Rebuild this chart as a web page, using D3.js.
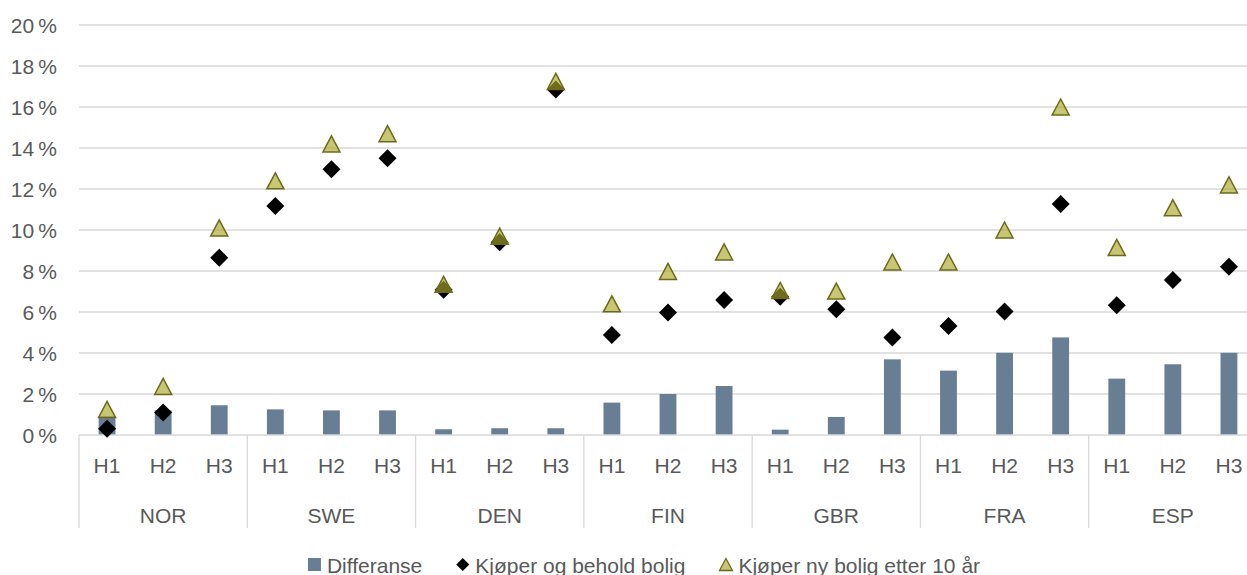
<!DOCTYPE html>
<html>
<head>
<meta charset="utf-8">
<script src="https://cdn.jsdelivr.net/npm/d3@7"></script>
<style>
  html, body { margin: 0; padding: 0; background: #ffffff; }
  svg { display: block; }
  text { font-family: "Liberation Sans", Arial, sans-serif; fill: #595959; }
</style>
</head>
<body>
<svg id="chart" width="1247" height="575"></svg>
<script>
const countries = ["NOR", "SWE", "DEN", "FIN", "GBR", "FRA", "ESP"];
const subcats = ["H1", "H2", "H3"];
const yTicks = [0, 0.02, 0.04, 0.06, 0.08, 0.10, 0.12, 0.14, 0.16, 0.18, 0.20];
const seriesNames = ["Differanse", "Kjøper og behold bolig", "Kjøper ny bolig etter 10 år"];

// values per country, H1..H3 (fractions)
const differanse = [
  0.009, 0.012, 0.0145,
  0.0125, 0.012, 0.012,
  0.0028, 0.0033, 0.0033,
  0.0158, 0.020, 0.0239,
  0.0026, 0.0088, 0.0369,
  0.0314, 0.0401, 0.0476,
  0.0275, 0.0345, 0.0401
];
const beholdBolig = [
  0.003, 0.011, 0.0865,
  0.1117, 0.1296, 0.135,
  0.0708, 0.094, 0.1685,
  0.0488, 0.0598, 0.0658,
  0.0675, 0.0613, 0.0476,
  0.0532, 0.0602, 0.1127,
  0.0633, 0.0756, 0.0821
];
const nyBolig = [
  0.0125, 0.0237, 0.101,
  0.124, 0.142, 0.147,
  0.0735, 0.097, 0.1725,
  0.064, 0.0798, 0.0893,
  0.0705, 0.0702, 0.0844,
  0.0844, 0.100, 0.160,
  0.0915, 0.1109, 0.122
];

const rows = [];
countries.forEach((c, ci) => subcats.forEach((h, hi) => {
  const i = ci * 3 + hi;
  rows.push({ country: c, sub: h, diff: differanse[i], behold: beholdBolig[i], ny: nyBolig[i] });
}));

const FS = "21px";
const svg = d3.select("#chart");
const plotLeft = 79, plotRight = 1257, plotTop = 25, plotBottom = 435;

const x0 = d3.scaleBand().domain(countries).range([plotLeft, plotRight]).paddingInner(0).paddingOuter(0);
const x1 = d3.scaleBand().domain(subcats).range([0, x0.bandwidth()]).paddingInner(0.7).paddingOuter(0.35);
const y = d3.scaleLinear().domain([0, 0.20]).range([plotBottom, plotTop]);

const cx = d => x0(d.country) + x1(d.sub) + x1.bandwidth() / 2;

// gridlines
svg.append("g")
  .selectAll("line").data(yTicks.filter(t => t > 0)).join("line")
  .attr("x1", plotLeft).attr("x2", 1247)
  .attr("y1", d => y(d)).attr("y2", d => y(d))
  .attr("stroke", "#d9d9d9").attr("stroke-width", 1.3);

// y axis labels
const yAxis = d3.axisLeft(y).tickValues(yTicks).tickSize(0).tickPadding(0)
  .tickFormat(d => Math.round(d * 100) + "\u2009%");
const yg = svg.append("g").attr("transform", `translate(57,0)`).call(yAxis);
yg.select(".domain").remove();
yg.selectAll("text").style("font-size", FS).attr("fill", "#595959").attr("dy", "0.35em");

// bars
svg.append("g").selectAll("rect").data(rows).join("rect")
  .attr("x", d => x0(d.country) + x1(d.sub))
  .attr("width", x1.bandwidth())
  .attr("y", d => y(d.diff))
  .attr("height", d => y(0) - y(d.diff))
  .attr("fill", "#687e94");

// category axis line
svg.append("line").attr("x1", plotLeft).attr("x2", 1247)
  .attr("y1", plotBottom).attr("y2", plotBottom)
  .attr("stroke", "#d9d9d9").attr("stroke-width", 1.3);

// separators
svg.append("g").selectAll("line").data(countries.concat(["_end"])).join("line")
  .attr("x1", d => d === "_end" ? plotRight : x0(d))
  .attr("x2", d => d === "_end" ? plotRight : x0(d))
  .attr("y1", plotBottom).attr("y2", 528)
  .attr("stroke", "#d9d9d9").attr("stroke-width", 1.3);

// sub labels
svg.append("g").selectAll("text").data(rows).join("text")
  .attr("x", cx).attr("y", 472.5)
  .attr("text-anchor", "middle")
  .style("font-size", FS)
  .text(d => d.sub);

// country labels
svg.append("g").selectAll("text").data(countries).join("text")
  .attr("x", d => x0(d) + x0.bandwidth() / 2).attr("y", 522.5)
  .attr("text-anchor", "middle")
  .style("font-size", FS)
  .text(d => d);

// diamonds
const diamond = (s) => `M0,${-s}L${s},0L0,${s}L${-s},0Z`;
svg.append("g").selectAll("path").data(rows).join("path")
  .attr("transform", d => `translate(${cx(d)},${y(d.behold)})`)
  .attr("d", diamond(9))
  .attr("fill", "#000000");

// triangles
const tri = (w, h) => `M0,${-h / 2}L${w / 2},${h / 2}L${-w / 2},${h / 2}Z`;
svg.append("g").selectAll("path").data(rows).join("path")
  .attr("transform", d => `translate(${cx(d)},${y(d.ny)})`)
  .attr("d", tri(17, 16))
  .attr("fill", "rgb(170,166,40)").attr("fill-opacity", 0.65)
  .attr("stroke", "#6b6a1c").attr("stroke-width", 1.5);

// legend
const lg = svg.append("g");
const legendY = 565;
const items = [];
seriesNames.forEach((name, i) => {
  const g = lg.append("g");
  if (i === 0) {
    g.append("rect").attr("x", 0).attr("y", -7).attr("width", 13).attr("height", 13).attr("fill", "#687e94");
  } else if (i === 1) {
    g.append("path").attr("d", diamond(6.5)).attr("transform", "translate(6.5,-0.5)").attr("fill", "#000");
  } else {
    g.append("path").attr("d", tri(13, 12)).attr("transform", "translate(6.5,-0.5)")
      .attr("fill", "rgb(170,166,40)").attr("fill-opacity", 0.65)
      .attr("stroke", "#6b6a1c").attr("stroke-width", 1.3);
  }
  const t = g.append("text").attr("x", 19).attr("y", 7.5).style("font-size", FS).text(name);
  const w = 19 + t.node().getComputedTextLength();
  items.push({ g, w });
});
const gap = 34;
const total = d3.sum(items, d => d.w) + gap * (items.length - 1);
let xs = 644 - total / 2;
items.forEach(it => { it.g.attr("transform", `translate(${xs},${legendY})`); xs += it.w + gap; });
</script>
</body>
</html>
